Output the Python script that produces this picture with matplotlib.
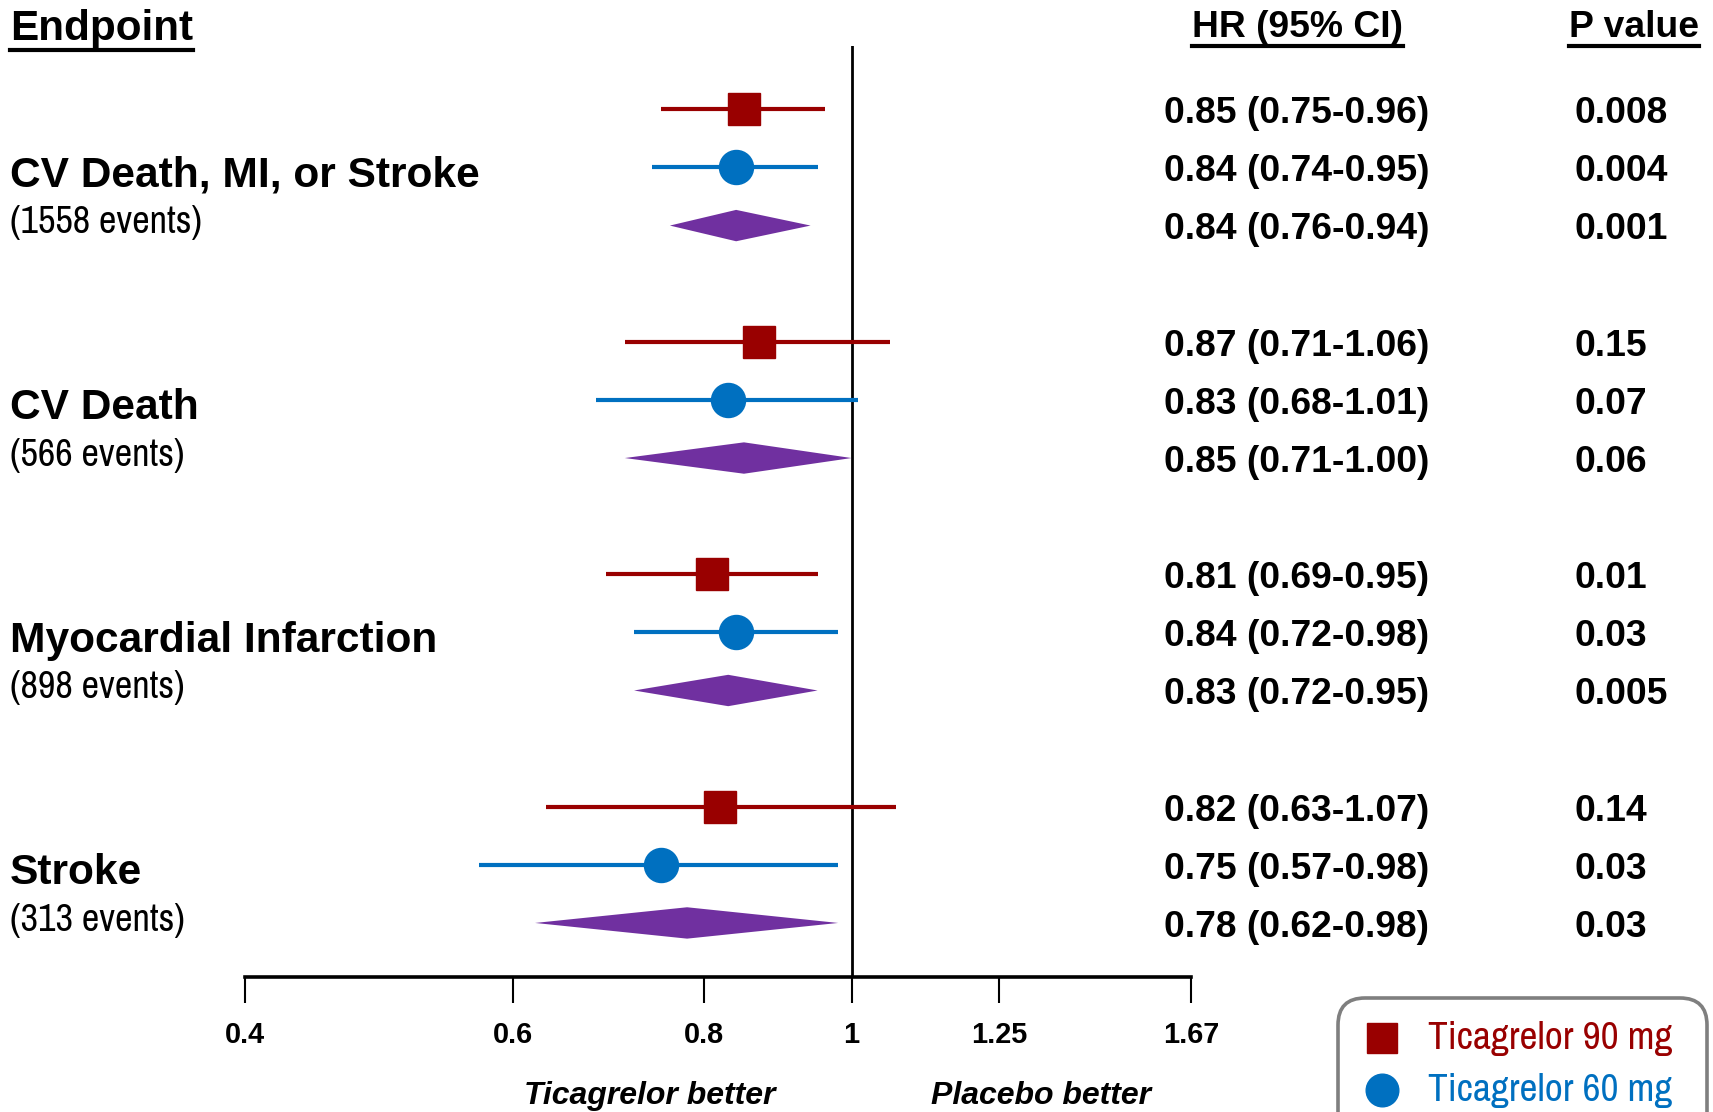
import matplotlib

matplotlib.use("Agg")
import matplotlib.pyplot as plt
import matplotlib.transforms as mtransforms
from matplotlib import font_manager
from matplotlib.lines import Line2D
from matplotlib.patches import FancyBboxPatch
import numpy as np

endpoints = ["CV Death, MI, or Stroke", "CV Death", "Myocardial Infarction", "Stroke"]
events = [1558, 566, 898, 313]

hr_90 = [0.85, 0.87, 0.81, 0.82]
lo_90 = [0.75, 0.71, 0.69, 0.63]
hi_90 = [0.96, 1.06, 0.95, 1.07]
p_90 = ["0.008", "0.15", "0.01", "0.14"]

hr_60 = [0.84, 0.83, 0.84, 0.75]
lo_60 = [0.74, 0.68, 0.72, 0.57]
hi_60 = [0.95, 1.01, 0.98, 0.98]
p_60 = ["0.004", "0.07", "0.03", "0.03"]

hr_pool = [0.84, 0.85, 0.83, 0.78]
lo_pool = [0.76, 0.71, 0.72, 0.62]
hi_pool = [0.94, 1.00, 0.95, 0.98]
p_pool = ["0.001", "0.06", "0.005", "0.03"]

x_ticks = [0.4, 0.6, 0.8, 1, 1.25, 1.67]
x_tick_labels = ["0.4", "0.6", "0.8", "1", "1.25", "1.67"]
legend_labels = ["Ticagrelor 90 mg", "Ticagrelor 60 mg"]

RED = "#990000"
BLUE = "#0070C0"
PURPLE = "#7030A0"
BOLD = ["Liberation Sans", "DejaVu Sans"]


def pick_font(candidates, fallback):
    available = {f.name for f in font_manager.fontManager.ttflist}
    for name in candidates:
        if name in available:
            return name
    return fallback


NARROW = [pick_font(["Liberation Sans Narrow", "Arial Narrow", "Archivo Narrow", "PT Sans Narrow",
                     "Roboto Condensed", "Pragati Narrow", "Fira Sans Condensed",
                     "IBM Plex Sans Condensed", "Open Sans Condensed"], "Liberation Sans"),
          "DejaVu Sans"]

W, H = 1713, 1112
fig = plt.figure(figsize=(W / 100, H / 100), dpi=100)
renderer = fig.canvas.get_renderer()


def fit_size(text, target_px, base=28.0, **kw):
    t = fig.text(0, 0, text, fontsize=base, **kw)
    width = t.get_window_extent(renderer).width
    t.remove()
    return min(base * target_px / width, 30.0)


events_size = fit_size("(1558 events)", 192, family=NARROW)
legend_size = fit_size(legend_labels[0], 244, family=NARROW)

ax = fig.add_axes([245 / W, 1 - 977 / H, 946 / W, (977 - 46) / H])
ax.set_xscale("log")
ax.set_xlim(0.4, 1.67)
ax.set_ylim(14.93, -1.09)

rows_90 = np.arange(4) * 4
rows_60 = rows_90 + 1
rows_pool = rows_90 + 2

ax.axvline(1, color="black", lw=2, zorder=1)

ax.hlines(rows_90, lo_90, hi_90, color=RED, lw=3, zorder=2)
ax.plot(hr_90, rows_90, ls="none", marker="s", ms=23, color=RED, zorder=3)
ax.hlines(rows_60, lo_60, hi_60, color=BLUE, lw=3, zorder=2)
ax.plot(hr_60, rows_60, ls="none", marker="o", ms=24.5, color=BLUE, zorder=3)

half_h = 0.27
for y, hr, lo, hi in zip(rows_pool, hr_pool, lo_pool, hi_pool):
    ax.fill([lo, hr, hi, hr], [y, y - half_h, y, y + half_h], color=PURPLE, lw=0, zorder=3)

for side in ["top", "right", "left"]:
    ax.spines[side].set_visible(False)
ax.spines["bottom"].set_linewidth(2.6)
ax.set_yticks([])
ax.set_xticks(x_ticks)
ax.set_xticklabels(x_tick_labels)
ax.xaxis.set_minor_locator(matplotlib.ticker.NullLocator())
ax.tick_params(axis="x", length=19, width=1.5, pad=13, labelsize=20.8)
for lab in ax.get_xticklabels():
    lab.set_fontweight("bold")
    lab.set_family(BOLD)

trans = mtransforms.blended_transform_factory(fig.transFigure, ax.transData)

# endpoint names and event counts
for g, (name, n) in enumerate(zip(endpoints, events)):
    base = 4 * g
    ax.text(10 / W, base + 1.14, name, transform=trans, ha="left", va="center",
            fontsize=30.6, fontweight="bold", family=BOLD, clip_on=False)
    ax.text(10 / W, base + 1.95, f"({n} events)", transform=trans, ha="left", va="center",
            fontsize=events_size, family=NARROW, clip_on=False)

# HR and p-value columns
for rows, hrs, los, his, ps in [
    (rows_90, hr_90, lo_90, hi_90, p_90),
    (rows_60, hr_60, lo_60, hi_60, p_60),
    (rows_pool, hr_pool, lo_pool, hi_pool, p_pool),
]:
    for y, hr, lo, hi, p in zip(rows, hrs, los, his, ps):
        ax.text(1297 / W, y + 0.075, f"{hr:.2f} ({lo:.2f}-{hi:.2f})", transform=trans,
                ha="center", va="center", fontsize=26.8, fontweight="bold", family=BOLD,
                clip_on=False)
        ax.text(1575 / W, y + 0.075, p, transform=trans, ha="left", va="center",
                fontsize=26.8, fontweight="bold", family=BOLD, clip_on=False)

# headers with underline
headers = [
    fig.text(10 / W, 1 - 40 / H, "Endpoint", ha="left", va="baseline", fontsize=30.4,
             fontweight="bold", family=BOLD),
    fig.text(1297 / W, 1 - 37 / H, "HR (95% CI)", ha="center", va="baseline", fontsize=26.8,
             fontweight="bold", family=BOLD),
    fig.text(1634 / W, 1 - 37 / H, "P value", ha="center", va="baseline", fontsize=26.8,
             fontweight="bold", family=BOLD),
]
for t in headers:
    bb = t.get_window_extent(renderer)
    fig.add_artist(Line2D([bb.x0, bb.x1], [bb.y0 - 1, bb.y0 - 1], color="black", lw=3,
                          transform=mtransforms.IdentityTransform()))

fig.text(650 / W, 1 - 1096 / H, "Ticagrelor better", ha="center", va="center", fontsize=23,
         fontweight="bold", fontstyle="italic", family=BOLD)
fig.text(1041 / W, 1 - 1096 / H, "Placebo better", ha="center", va="center", fontsize=23,
         fontweight="bold", fontstyle="italic", family=BOLD)

# legend box (runs off the bottom edge like the original)
inch = fig.dpi_scale_trans
fig.add_artist(FancyBboxPatch((1338 / 100, (H - 1230) / 100), 369 / 100, 232 / 100,
                              boxstyle="round,pad=0,rounding_size=0.27", transform=inch,
                              facecolor="white", edgecolor="#7f7f7f", lw=2.6))
for (label, color, marker, ms), y_px in zip(
        [(legend_labels[0], RED, "s", 21), (legend_labels[1], BLUE, "o", 23.5)], [1038, 1090]):
    fig.add_artist(Line2D([1382 / 100], [(H - y_px) / 100], transform=inch, ls="none",
                          marker=marker, ms=ms, color=color))
    fig.text(1428 / W, 1 - y_px / H, label, ha="left", va="center", color=color,
             fontsize=legend_size, family=NARROW)

fig.savefig("out.png", dpi=100)
